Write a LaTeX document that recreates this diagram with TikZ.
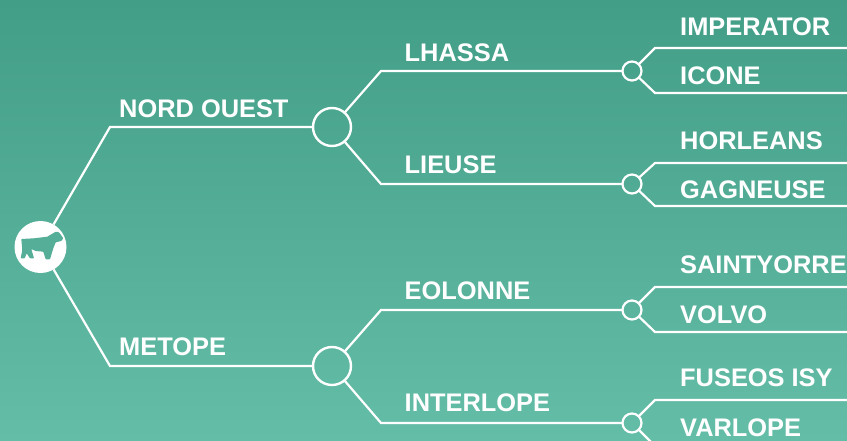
\documentclass[tikz,border=0pt]{standalone}
\usepackage{fontspec}
\setmainfont{Liberation Sans}
\definecolor{bgtop}{HTML}{439E87}
\definecolor{bgbottom}{HTML}{64BDA7}
\definecolor{bullfill}{HTML}{55AE97}
\tikzset{
    % Connecting lines and the rings on them
    branch line/.style={draw=white, line width=2.2pt, line join=miter},
    big ring/.style={circle, draw=white, line width=2.4pt, minimum size=38pt, inner sep=0, outer sep=0},
    small ring/.style={circle, draw=white, line width=2.2pt, minimum size=19pt, inner sep=0, outer sep=0},
    root disc/.style={circle, fill=white, minimum size=52pt, inner sep=0, outer sep=0},
%
    % All the labels sit on their baseline
    variety label/.style={anchor=base west, inner sep=0, text=white,
        font=\fontsize{25.4}{30}\selectfont\bfseries}}

\begin{document}
\begin{tikzpicture}[x=1pt, y=-1pt]

\clip (0,0) rectangle (847,440);
\shade [top color=bgtop, bottom color=bgbottom] (0,0) rectangle (847,440);

% Rings

\node [root disc] (root) at (40.5,247) {};
\node [big ring] (nord) at (332,127) {};
\node [big ring] (metope) at (332,366) {};
\node [small ring] (lhassa) at (632,71) {};
\node [small ring] (lieuse) at (632,184) {};
\node [small ring] (eolonne) at (632,310) {};
\node [small ring] (interlope) at (632,423) {};

% Elbows

\coordinate (nord bend) at (110,127);
\coordinate (metope bend) at (110,366);
\coordinate (lhassa bend) at (381,71);
\coordinate (lieuse bend) at (381,184);
\coordinate (eolonne bend) at (381,310);
\coordinate (interlope bend) at (381,423);

\draw [branch line] (root) -- (nord bend) -- (nord);
\draw [branch line] (root) -- (metope bend) -- (metope);
\draw [branch line] (nord) -- (lhassa bend) -- (lhassa);
\draw [branch line] (nord) -- (lieuse bend) -- (lieuse);
\draw [branch line] (metope) -- (eolonne bend) -- (eolonne);
\draw [branch line] (metope) -- (interlope bend) -- (interlope);

% Free ends run off the right edge

\draw [branch line] (lhassa) -- (655,48) coordinate (a1) -- (a1 -| 847,0);
\draw [branch line] (lhassa) -- (655,93) coordinate (a2) -- (a2 -| 847,0);
\draw [branch line] (lieuse) -- (655,163) coordinate (b1) -- (b1 -| 847,0);
\draw [branch line] (lieuse) -- (655,206) coordinate (b2) -- (b2 -| 847,0);
\draw [branch line] (eolonne) -- (655,287) coordinate (c1) -- (c1 -| 847,0);
\draw [branch line] (eolonne) -- (655,332) coordinate (c2) -- (c2 -| 847,0);
\draw [branch line] (interlope) -- (655,400) coordinate (d1) -- (d1 -| 847,0);
\draw [branch line] (interlope) -- (655,446) coordinate (d2) -- (d2 -| 847,0);

% Labels

\node [variety label] (nord text) at (119,117) {NORD OUEST};
\node [variety label] (metope text) at (119,355) {METOPE};
\node [variety label] (lhassa text) at (404.5,61) {LHASSA};
\node [variety label] (lieuse text) at (404.5,173) {LIEUSE};
\node [variety label] (eolonne text) at (404.5,299) {EOLONNE};
\node [variety label] (interlope text) at (404.5,411) {INTERLOPE};
\node [variety label] (imperator) at (680,35) {IMPERATOR};
\node [variety label] (icone) at (680,84) {ICONE};
\node [variety label] (horleans) at (680,149) {HORLEANS};
\node [variety label] (gagneuse) at (680,198.5) {GAGNEUSE};
\node [variety label] (saintyorre) at (680,273) {SAINTYORRE};
\node [variety label] (volvo) at (680,323) {VOLVO};
\node [variety label] (fuseos) at (680,386) {FUSEOS ISY};
\node [variety label] (varlope) at (680,436) {VARLOPE};

% Bull

\fill [bullfill, rounded corners=0.6pt]
    (21.3,239) -- (34,238.3) -- (47.3,236.7) -- (55.7,231.7) -- (59,232.3)
    -- (63.3,238.3) -- (61.3,241) -- (55.7,242.3) -- (53.3,248.3) -- (50,259.3)
    -- (45.7,259.3) -- (43.3,251.7) -- (35.7,251) -- (31.3,249) -- (34,258.3)
    -- (30,258.3) -- (26.7,253.3) -- (24.7,258.3) -- (20.7,258.3) -- (22.3,250)
    -- cycle;

\end{tikzpicture}
\end{document}
